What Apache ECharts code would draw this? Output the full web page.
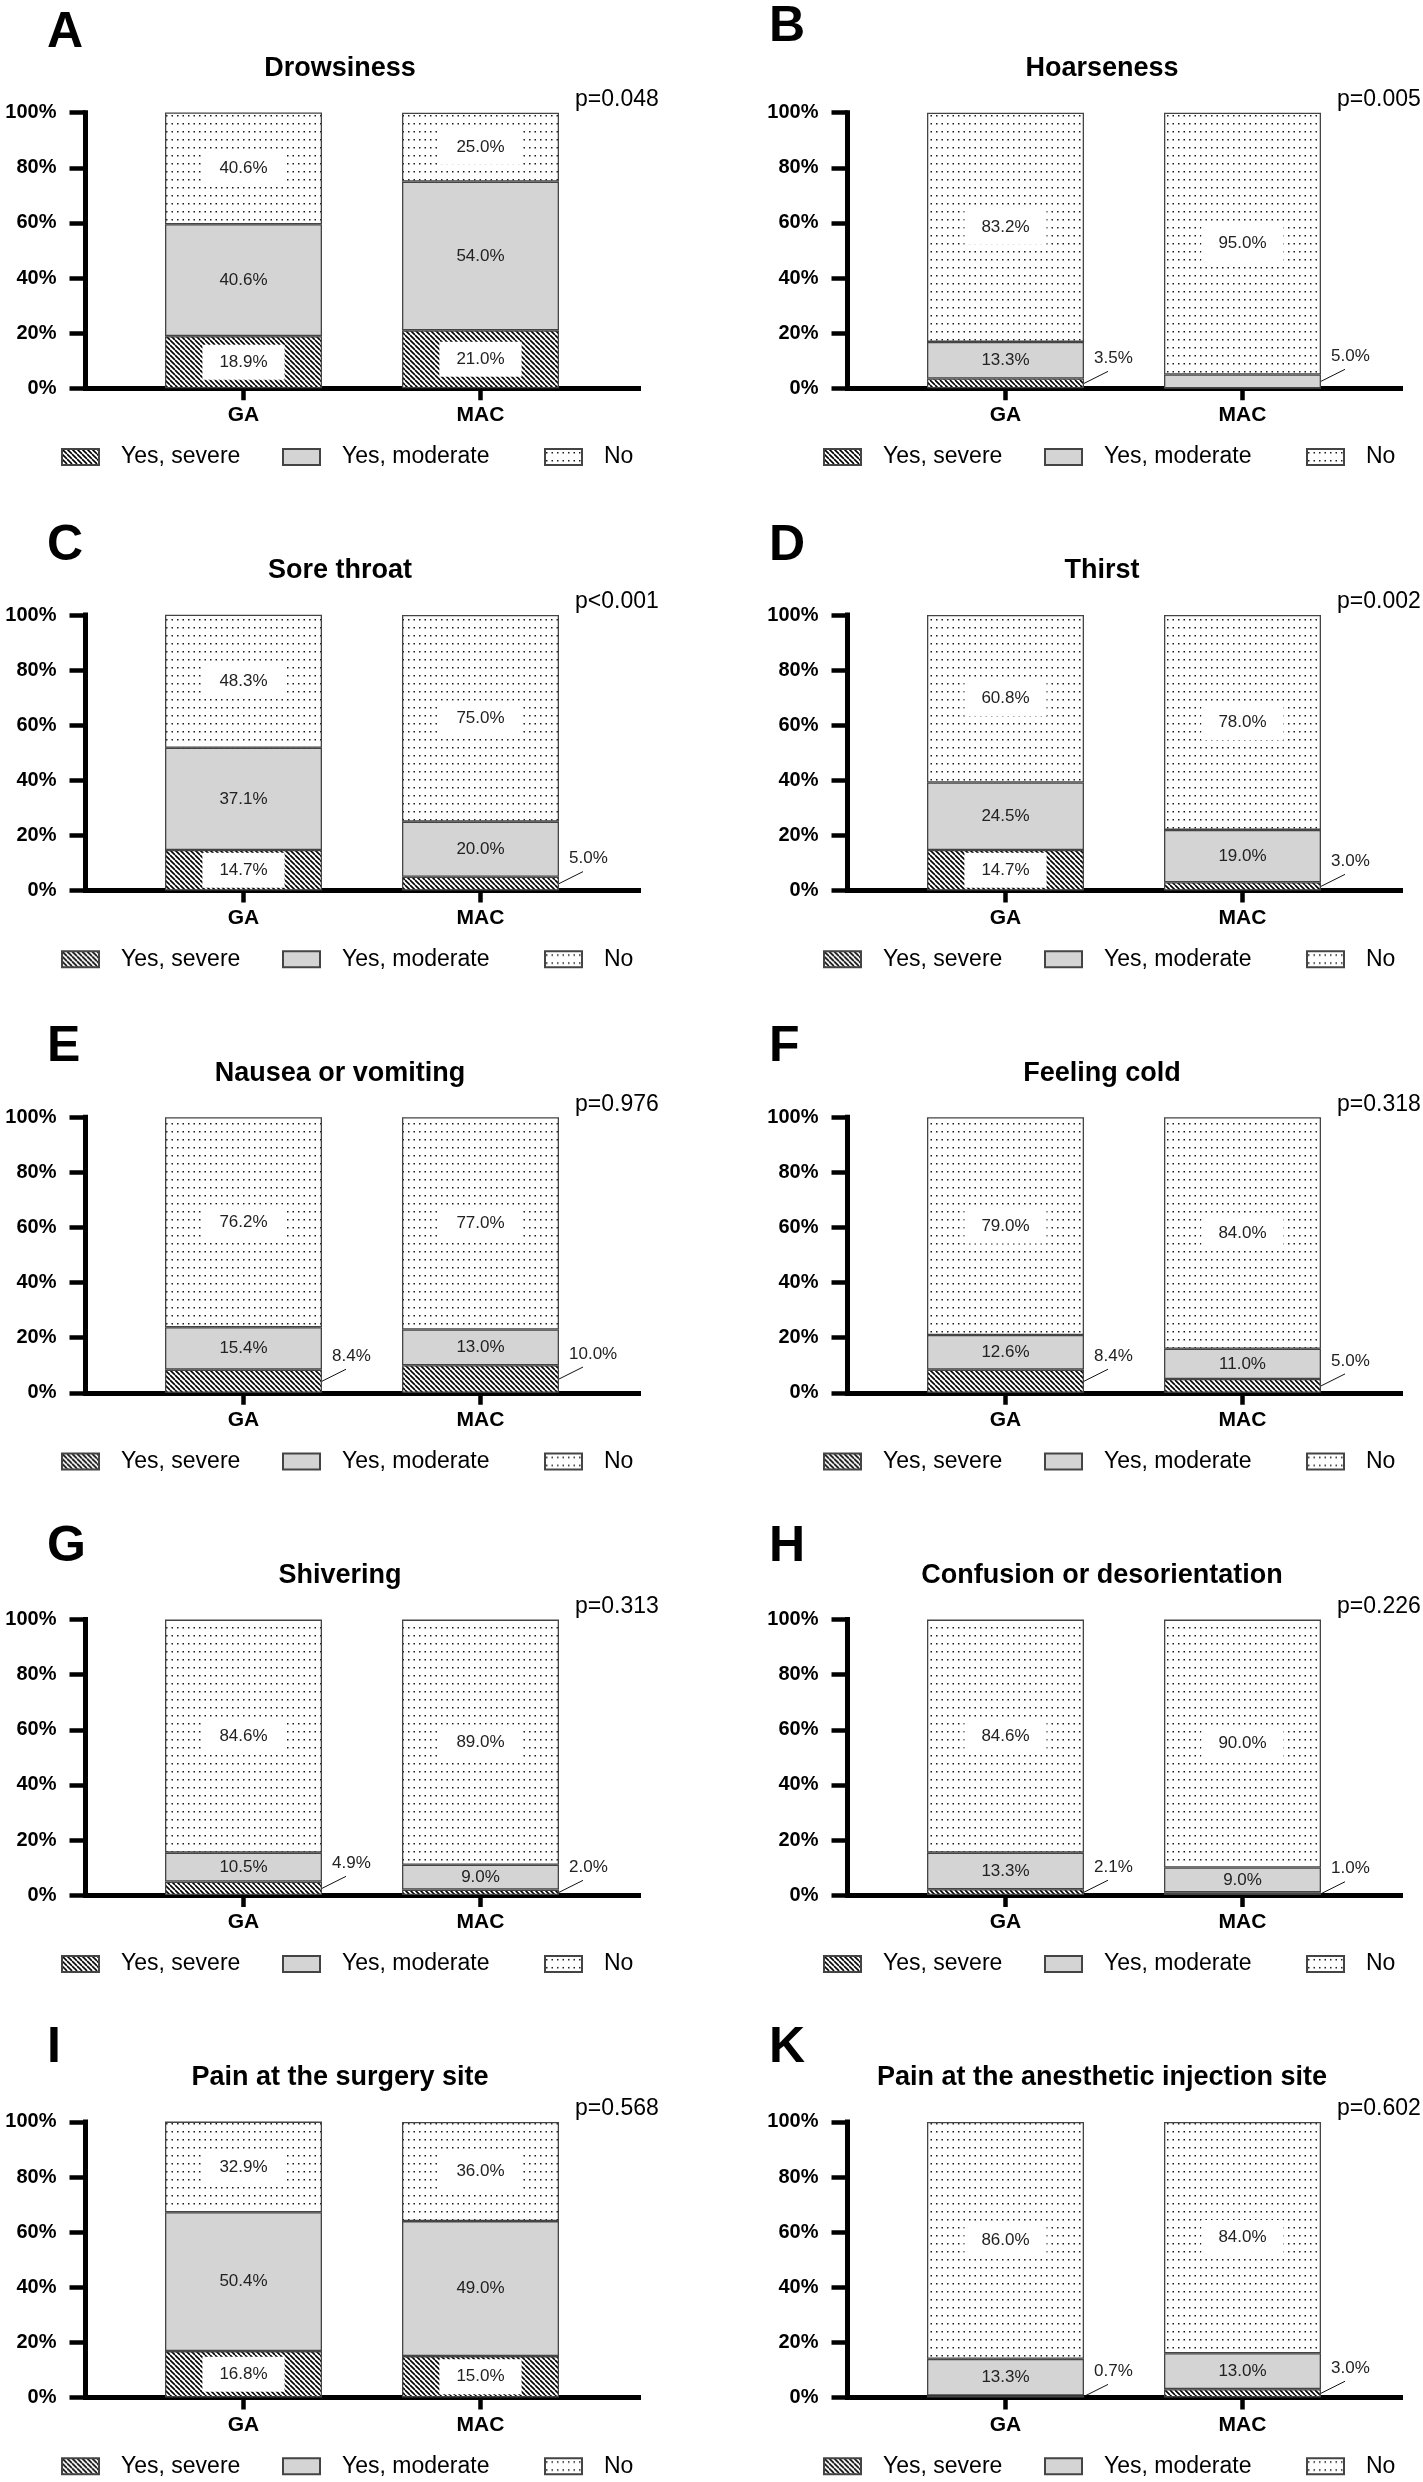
<!DOCTYPE html>
<html><head><meta charset="utf-8">
<script src="https://cdn.jsdelivr.net/npm/echarts@6/dist/echarts.min.js"></script>
<style>html,body{margin:0;padding:0;background:#fff}#c{width:1423px;height:2482px}</style>
</head><body><div id="c"></div>
<script>
// ---------------- data ----------------
const groups = ['GA', 'MAC'];
const legendNames = ['Yes, severe', 'Yes, moderate', 'No'];
const panelLetters = ['A', 'B', 'C', 'D', 'E', 'F', 'G', 'H', 'I', 'K'];
const panelTitles = ['Drowsiness', 'Hoarseness', 'Sore throat', 'Thirst', 'Nausea or vomiting',
  'Feeling cold', 'Shivering', 'Confusion or desorientation', 'Pain at the surgery site',
  'Pain at the anesthetic injection site'];
const pValues = ['p=0.048', 'p=0.005', 'p<0.001', 'p=0.002', 'p=0.976', 'p=0.318', 'p=0.313',
  'p=0.226', 'p=0.568', 'p=0.602'];
const severeGA    = [18.9, 3.5, 14.7, 14.7, 8.4, 8.4, 4.9, 2.1, 16.8, 0.7];
const severeMAC   = [21.0, 0.0, 5.0, 3.0, 10.0, 5.0, 2.0, 1.0, 15.0, 3.0];
const moderateGA  = [40.6, 13.3, 37.1, 24.5, 15.4, 12.6, 10.5, 13.3, 50.4, 13.3];
const moderateMAC = [54.0, 5.0, 20.0, 19.0, 13.0, 11.0, 9.0, 9.0, 49.0, 13.0];
const noGA        = [40.6, 83.2, 48.3, 60.8, 76.2, 79.0, 84.6, 84.6, 32.9, 86.0];
const noMAC       = [25.0, 95.0, 75.0, 78.0, 77.0, 84.0, 89.0, 90.0, 36.0, 84.0];
const yTicks = [0, 20, 40, 60, 80, 100];

// ---------------- layout ----------------
const FONT = '"Liberation Sans", Arial, Helvetica, sans-serif';
const COL_X = [0, 762];
const ROW_PITCH = 502.3;
const GRID_L = 85.5, GRID_T = 112.7, GRID_W = 553, GRID_H = 275.5;
const SLOT_COUNT = 8, SLOT_POS = [2, 5];   // axis slots; groups sit at slots 2 and 5
const BAR_W = 157;
const LEG_X = [56, 277, 539];
const LETTER_X = [47, 769];
const LETTER_DY = [-79, -85, -68.5, -68.5, -70, -70, -72, -72, -74, -74];

// axis category slots built from the group names
const slotCats = [];
for (let s = 0; s < SLOT_COUNT; s++) {
  const gi = SLOT_POS.indexOf(s);
  slotCats.push(gi >= 0 ? groups[gi] : ' '.repeat(s + 1));
}

function hatchPattern() {
  const s = 5, c = document.createElement('canvas');
  c.width = s; c.height = s;
  const g = c.getContext('2d');
  g.fillStyle = '#fff'; g.fillRect(0, 0, s, s);
  g.strokeStyle = '#000'; g.lineWidth = 1.6; g.beginPath();
  for (const k of [-s, 0, s]) { g.moveTo(k, 0); g.lineTo(k + s, s); }
  g.stroke();
  return c;
}
function dotPattern() {
  const w = 11, h = 8, c = document.createElement('canvas');
  c.width = w; c.height = h;
  const g = c.getContext('2d');
  g.fillStyle = '#fff'; g.fillRect(0, 0, w, h);
  g.fillStyle = '#1a1a1a';
  g.fillRect(1, 3, 1.5, 1.5);
  g.fillRect(6.5, 3, 1.5, 1.5);
  return c;
}
const FILLS = [
  { image: hatchPattern(), repeat: 'repeat' },
  '#d4d4d4',
  { image: dotPattern(), repeat: 'repeat' }
];

const chart = echarts.init(document.getElementById('c'), null, { renderer: 'canvas' });
const grids = [], xAxes = [], yAxes = [], series = [], legends = [], graphics = [];
const isGroupSlot = (idx) => SLOT_POS.indexOf(idx) >= 0;

for (let i = 0; i < 10; i++) {
  const col = i % 2, row = Math.floor(i / 2);
  const ox = COL_X[col];
  const top = GRID_T + row * ROW_PITCH;
  grids.push({ left: ox + GRID_L, top: top, width: GRID_W, height: GRID_H, containLabel: false });
  xAxes.push({
    gridIndex: i, type: 'category', data: slotCats, boundaryGap: false,
    axisLine: { show: true, onZero: false, lineStyle: { color: '#000', width: 5, cap: 'square' } },
    axisTick: { show: true, length: 12, interval: (idx) => isGroupSlot(idx),
      lineStyle: { color: '#000', width: 4.5 } },
    axisLabel: { show: true, margin: 17, interval: (idx) => isGroupSlot(idx),
      fontFamily: FONT, fontWeight: 'bold', fontSize: 21, color: '#000' },
    splitLine: { show: false }
  });
  yAxes.push({
    gridIndex: i, type: 'value', min: 0, max: 100, interval: 20,
    axisLine: { show: true, lineStyle: { color: '#000', width: 5, cap: 'square' } },
    axisTick: { show: true, length: 16, lineStyle: { color: '#000', width: 4.5 } },
    axisLabel: { show: true, formatter: '{value}%', margin: 29,
      fontFamily: FONT, fontWeight: 'bold', fontSize: 20, color: '#000' },
    splitLine: { show: false }
  });

  const vals = [[severeGA[i], severeMAC[i]], [moderateGA[i], moderateMAC[i]], [noGA[i], noMAC[i]]];
  const outsideLimit = [12, 6, 0];
  for (let k = 0; k < 3; k++) {
    const data = slotCats.map(() => '-');
    vals[k].forEach((v, j) => {
      const isOut = v > 0 && v < outsideLimit[k];
      data[SLOT_POS[j]] = { value: v, label: { show: v > 0 && !isOut } };
    });
    series.push({
      type: 'bar', name: legendNames[k], xAxisIndex: i, yAxisIndex: i, stack: 'st' + i,
      barWidth: BAR_W, animation: false, emphasis: { disabled: true }, silent: true,
      itemStyle: { color: FILLS[k], borderColor: '#444', borderWidth: 1.3 },
      label: {
        show: true, position: 'inside', fontFamily: FONT, fontSize: 17, color: '#222',
        backgroundColor: k === 1 ? 'transparent' : '#fff', padding: [9, 17],
        formatter: p => Number(p.value).toFixed(1) + '%'
      },
      data: data
    });
  }
  const outside = [];
  for (let j = 0; j < 2; j++) {
    let base = 0;
    for (let k = 0; k < 3; k++) {
      const v = vals[k][j];
      if (v > 0 && v < outsideLimit[k]) outside.push([SLOT_POS[j], base, v]);
      base += v;
    }
  }
  series.push({
    type: 'custom', xAxisIndex: i, yAxisIndex: i, silent: true, animation: false, z: 10,
    encode: { x: 0, y: 1 },
    data: outside,
    renderItem: (params, api) => {
      const x = api.value(0), b = api.value(1), v = api.value(2);
      const p = api.coord([x, b + v / 2]);
      const ex = p[0] + BAR_W / 2;
      return {
        type: 'group', children: [
          { type: 'line', shape: { x1: ex, y1: p[1], x2: ex + 24, y2: p[1] - 12 },
            style: { stroke: '#111', lineWidth: 1 } },
          { type: 'text', x: ex + 10, y: p[1] - 25,
            style: { text: v.toFixed(1) + '%', font: '17px ' + FONT, fill: '#222',
              align: 'left', verticalAlign: 'middle' } }
        ]
      };
    }
  });

  for (let k = 0; k < 3; k++) {
    legends.push({
      data: [legendNames[k]], left: ox + LEG_X[k], top: top + 339.3 - 12,
      orient: 'horizontal', icon: 'rect', itemWidth: 37, itemHeight: 16, selectedMode: false,
      textStyle: { fontFamily: FONT, fontSize: 23, color: '#000', lineHeight: 24, padding: [0, 0, 0, 17] }
    });
  }

  graphics.push({ type: 'text', x: LETTER_X[col], y: top + LETTER_DY[i],
    style: { text: panelLetters[i], font: 'bold 50px ' + FONT, fill: '#000',
      textAlign: 'left', textVerticalAlign: 'middle' } });
  graphics.push({ type: 'text', x: ox + 340, y: top - 44,
    style: { text: panelTitles[i], font: 'bold 27px ' + FONT, fill: '#000',
      textAlign: 'center', textVerticalAlign: 'middle' } });
  graphics.push({ type: 'text', x: ox + 575, y: top - 13,
    style: { text: pValues[i], font: '23px ' + FONT, fill: '#000',
      textAlign: 'left', textVerticalAlign: 'middle' } });
}

chart.setOption({
  backgroundColor: '#fff',
  animation: false,
  grid: grids, xAxis: xAxes, yAxis: yAxes, series: series, legend: legends,
  graphic: { elements: graphics }
});
</script>
</body></html>
